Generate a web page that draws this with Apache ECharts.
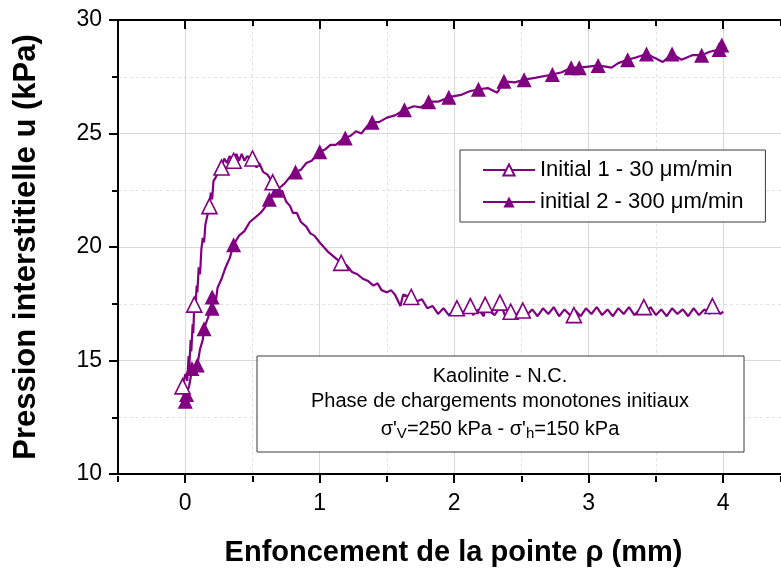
<!DOCTYPE html>
<html>
<head>
    <meta charset="utf-8">
    <title>Pression interstitielle</title>
    <script src="https://cdn.jsdelivr.net/npm/echarts/dist/echarts.min.js"></script>
    <style>
        html, body { margin: 0; padding: 0; background: #fff; }
    </style>
</head>
<body>
    <div id="chart" style="width: 781px;height:572px;"></div>
    <script type="text/javascript">
        // data: [enfoncement (mm), pression (kPa)]
        var name1 = 'Initial 1 - 30 \u03bcm/min';
        var name2 = 'initial 2 - 300 \u03bcm/min';

        // Initial 1 : measured curve (noisy) and the plotted markers
        var initial1Line = [
            [0.00, 14.4], [0.015, 14.1], [0.025, 15.2], [0.03, 14.7], [0.04, 15.9], [0.045, 15.4],
            [0.055, 16.6], [0.06, 16.2], [0.075, 17.2], [0.085, 18.3], [0.09, 18.0], [0.10, 19.1],
            [0.11, 18.8], [0.12, 19.9], [0.13, 20.4], [0.14, 20.2], [0.15, 21.0], [0.165, 21.4],
            [0.19, 22.4], [0.20, 22.1], [0.21, 22.9], [0.23, 23.1], [0.25, 23.4], [0.29, 23.9],
            [0.31, 23.7], [0.33, 24.0], [0.38, 24.1], [0.40, 23.8], [0.42, 24.1], [0.44, 23.8],
            [0.46, 24.0], [0.53, 23.5], [0.55, 23.7], [0.58, 23.3], [0.61, 23.2], [0.68, 22.7],
            [0.70, 22.3], [0.72, 22.5], [0.75, 22.0], [0.78, 21.8], [0.80, 21.5], [0.83, 21.5],
            [0.86, 21.1], [0.90, 20.9], [0.93, 20.6], [0.96, 20.5], [1.00, 20.2], [1.03, 20.0],
            [1.06, 19.8], [1.10, 19.6], [1.20, 19.2], [1.24, 18.9], [1.28, 18.8], [1.32, 18.6],
            [1.36, 18.5], [1.40, 18.3], [1.43, 18.4], [1.46, 18.1], [1.50, 18.0], [1.53, 18.1],
            [1.56, 17.9], [1.60, 17.4], [1.62, 17.9], [1.72, 17.6], [1.76, 17.7], [1.80, 17.3],
            [1.84, 17.4], [1.88, 17.05], [1.92, 17.3], [1.96, 17.0], [2.06, 17.1], [2.10, 17.3],
            [2.14, 17.0], [2.18, 17.25], [2.22, 16.95], [2.26, 17.2], [2.30, 17.0], [2.34, 17.35],
            [2.38, 16.95], [2.42, 17.15], [2.46, 17.0], [2.50, 17.3], [2.54, 17.0], [2.58, 17.25],
            [2.62, 16.95], [2.66, 17.3], [2.70, 17.05], [2.74, 17.35], [2.78, 16.95], [2.82, 17.25],
            [2.86, 17.0], [2.90, 17.2], [2.94, 16.95], [2.98, 17.3], [3.02, 17.05], [3.06, 17.35],
            [3.10, 17.0], [3.14, 17.25], [3.18, 16.95], [3.22, 17.3], [3.26, 17.05], [3.30, 17.35],
            [3.34, 17.0], [3.38, 17.25], [3.42, 17.05], [3.46, 17.35], [3.50, 17.0], [3.54, 17.25],
            [3.58, 16.95], [3.62, 17.3], [3.66, 17.05], [3.70, 17.25], [3.74, 16.95], [3.78, 17.3],
            [3.82, 17.0], [3.86, 17.25], [3.90, 17.05], [3.94, 17.3], [3.98, 17.05], [4.00, 17.15]
        ];
        var initial1Marks = [
            [-0.02, 13.86], [0.067, 17.46], [0.18, 21.8], [0.27, 23.5], [0.36, 23.8], [0.50, 23.9],
            [0.65, 22.85], [1.16, 19.3], [1.68, 17.8], [2.02, 17.3], [2.12, 17.4], [2.23, 17.45],
            [2.34, 17.55], [2.42, 17.15], [2.51, 17.2], [2.89, 17.0], [3.41, 17.35], [3.92, 17.4]
        ];

        // initial 2 : measured curve and markers
        var initial2Line = [
            [0.00, 13.2], [0.01, 13.5], [0.03, 13.9], [0.05, 14.6], [0.07, 14.5], [0.11, 15.5],
            [0.13, 15.9], [0.17, 16.9], [0.19, 17.3], [0.21, 17.9], [0.23, 17.7], [0.24, 18.2],
            [0.27, 18.6], [0.30, 19.1], [0.33, 19.5], [0.40, 20.5], [0.44, 20.7], [0.48, 21.1],
            [0.52, 21.3], [0.56, 21.5], [0.60, 21.8], [0.66, 22.3], [0.70, 22.6], [0.74, 22.8],
            [0.78, 23.1], [0.86, 23.4], [0.90, 23.7], [0.94, 23.8], [0.97, 24.0], [1.04, 24.3],
            [1.08, 24.5], [1.12, 24.5], [1.16, 24.7], [1.23, 24.9], [1.27, 25.1], [1.31, 25.0],
            [1.35, 25.3], [1.44, 25.5], [1.50, 25.7], [1.56, 25.8], [1.70, 26.2], [1.75, 26.15],
            [1.88, 26.4], [2.05, 26.7], [2.11, 26.85], [2.25, 27.0], [2.32, 26.8], [2.45, 27.25],
            [2.60, 27.45], [2.80, 27.7], [3.00, 27.95], [3.17, 27.9], [3.22, 28.1], [3.35, 28.35],
            [3.50, 28.3], [3.55, 28.15], [3.69, 28.25], [3.77, 28.45], [3.90, 28.6], [4.02, 28.8]
        ];
        var initial2Marks = [
            [0.00, 13.2], [0.01, 13.5], [0.05, 14.65], [0.09, 14.8], [0.14, 16.4], [0.20, 17.3],
            [0.20, 17.8], [0.36, 20.1], [0.625, 22.1], [0.68, 22.5], [0.82, 23.3], [1.00, 24.2],
            [1.19, 24.8], [1.39, 25.5], [1.63, 26.05], [1.81, 26.4], [1.96, 26.6], [2.18, 26.95],
            [2.37, 27.3], [2.52, 27.37], [2.73, 27.6], [2.87, 27.9], [2.93, 27.9], [3.07, 28.0],
            [3.29, 28.25], [3.43, 28.5], [3.62, 28.5], [3.84, 28.45], [3.97, 28.7], [3.99, 28.9]
        ];

        var xMajor = [0, 1, 2, 3, 4];

        // line points without symbol, marker points with symbol, in x order
        function build(line, marks) {
            var pts = line.map(function (p) { return { value: p, symbol: 'none' }; })
                .concat(marks.map(function (p) { return { value: p }; }));
            pts.sort(function (a, b) { return a.value[0] - b.value[0]; });
            return pts;
        }

        var purple = '#800080';
        var font = '"Liberation Sans", Arial, sans-serif';
        var myChart = echarts.init(document.getElementById('chart'));

        var option = {
            animation: false,
            backgroundColor: '#fff',
            textStyle: { fontFamily: font },
            grid: [
                { left: 118, right: 0, top: 20, bottom: 96 },
                { left: 118, right: 0, top: 20, bottom: 96 }
            ],
            xAxis: [
                {
                    gridIndex: 0, type: 'value', position: 'bottom', min: -0.5, max: 4.43,
                    name: 'Enfoncement de la pointe \u03c1 (mm)', nameLocation: 'middle', nameGap: 64,
                    nameTextStyle: { fontSize: 29, fontWeight: 'bold', color: '#000', fontFamily: font, padding: [0, 0, 0, 8] },
                    axisLine: { onZero: false, lineStyle: { color: '#000', width: 2 } },
                    axisTick: { customValues: xMajor, length: 9, lineStyle: { color: '#000', width: 2 } },
                    axisLabel: { customValues: xMajor, fontSize: 23, color: '#000', margin: 18, fontFamily: font },
                    splitLine: { show: true, lineStyle: { color: '#d9d9d9', width: 1 } }
                },
                {
                    gridIndex: 0, type: 'value', position: 'top', min: -0.5, max: 4.43,
                    axisLine: { onZero: false, lineStyle: { color: '#000', width: 2 } },
                    axisTick: { customValues: xMajor, inside: true, length: 9, lineStyle: { color: '#000', width: 2 } },
                    axisLabel: { show: false },
                    splitLine: { show: false }
                },
                {
                    gridIndex: 1, type: 'value', position: 'bottom', min: -0.5, max: 4.43, interval: 1,
                    axisLine: { show: false, onZero: false },
                    axisTick: { length: 6, lineStyle: { color: '#000', width: 2 } },
                    axisLabel: { show: false },
                    splitLine: { show: true, lineStyle: { color: '#e2e2e2', width: 1, type: [3, 3] } }
                },
                {
                    gridIndex: 1, type: 'value', position: 'top', min: -0.5, max: 4.43, interval: 1,
                    axisLine: { show: false, onZero: false },
                    axisTick: { inside: true, length: 6, lineStyle: { color: '#000', width: 2 } },
                    axisLabel: { show: false },
                    splitLine: { show: false }
                }
            ],
            yAxis: [
                {
                    gridIndex: 0, type: 'value', min: 10, max: 30, interval: 5,
                    name: 'Pression interstitielle u (kPa)', nameLocation: 'middle', nameGap: 76,
                    nameTextStyle: { fontSize: 31, fontWeight: 'bold', color: '#000', fontFamily: font },
                    axisLine: { show: true, onZero: false, lineStyle: { color: '#000', width: 2 } },
                    axisTick: { show: true, length: 9, lineStyle: { color: '#000', width: 2 } },
                    minorTick: { show: true, splitNumber: 2, length: 6, lineStyle: { color: '#000', width: 2 } },
                    axisLabel: { fontSize: 23, color: '#000', margin: 16, fontFamily: font },
                    splitLine: { show: true, lineStyle: { color: '#d9d9d9', width: 1 } },
                    minorSplitLine: { show: true, lineStyle: { color: '#e2e2e2', width: 1, type: [3, 3] } }
                },
                { gridIndex: 1, type: 'value', min: 10, max: 30, show: false, axisLine: { onZero: false } }
            ],
            legend: {
                left: 460, top: 150, orient: 'vertical',
                data: [name1, name2],
                backgroundColor: '#fff', borderColor: '#3a3a3a', borderWidth: 1,
                padding: [9, 22, 9, 22], itemGap: 10, itemWidth: 52, itemHeight: 14,
                textStyle: { fontSize: 22, color: '#000', fontFamily: font }
            },
            graphic: [
                { type: 'rect', z: 100, shape: { x: 257, y: 356, width: 487, height: 96 },
                  style: { fill: '#fff', stroke: '#3a3a3a', lineWidth: 1 } },
                { type: 'text', z: 101, x: 500, y: 376,
                  style: { text: 'Kaolinite - N.C.', fontSize: 20, fontFamily: font, fill: '#000', align: 'center', verticalAlign: 'middle' } },
                { type: 'text', z: 101, x: 500, y: 401,
                  style: { text: 'Phase de chargements monotones initiaux', fontSize: 20, fontFamily: font, fill: '#000', align: 'center', verticalAlign: 'middle' } },
                { type: 'text', z: 101, x: 500, y: 429,
                  style: {
                      text: '{a|\u03c3\'}{b|V}{a|=250 kPa - \u03c3\'}{b|h}{a|=150 kPa}',
                      align: 'center', verticalAlign: 'middle', fill: '#000',
                      rich: {
                          a: { fontSize: 20, fontFamily: font, fill: '#000' },
                          b: { fontSize: 15, fontFamily: font, fill: '#000', padding: [10, 0, 0, 0] }
                      }
                  } }
            ],
            series: [
                {
                    name: name2, type: 'line', xAxisIndex: 0, yAxisIndex: 0,
                    data: build(initial2Line, initial2Marks),
                    symbol: 'triangle', symbolSize: 15, showAllSymbol: true,
                    lineStyle: { color: purple, width: 2.2 },
                    itemStyle: { color: purple },
                    emphasis: { disabled: true }, z: 3
                },
                {
                    name: name1, type: 'line', xAxisIndex: 0, yAxisIndex: 0,
                    data: build(initial1Line, initial1Marks),
                    symbol: 'triangle', symbolSize: 15, showAllSymbol: true,
                    lineStyle: { color: purple, width: 2.2 },
                    itemStyle: { color: '#fff', borderColor: purple, borderWidth: 1.6 },
                    emphasis: { disabled: true }, z: 4
                }
            ]
        };

        myChart.setOption(option);
    </script>
</body>
</html>
